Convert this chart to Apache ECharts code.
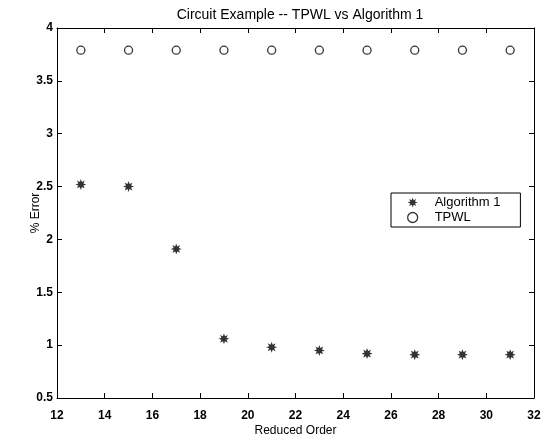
<!DOCTYPE html>
<html>
<head>
<meta charset="utf-8">
<script src="https://cdn.jsdelivr.net/npm/echarts@6/dist/echarts.min.js"></script>
<style>html,body{margin:0;padding:0;background:#fff}#c{width:544px;height:442px}</style>
</head>
<body>
<div id="c"></div>
<script>
var orders = [13, 15, 17, 19, 21, 23, 25, 27, 29, 31];
var algorithm1 = [2.52, 2.50, 1.91, 1.06, 0.98, 0.95, 0.92, 0.91, 0.91, 0.91];
var tpwl = [3.79, 3.79, 3.79, 3.79, 3.79, 3.79, 3.79, 3.79, 3.79, 3.79];
var xTicks = [12, 14, 16, 18, 20, 22, 24, 26, 28, 30, 32];
var yTicks = [0.5, 1, 1.5, 2, 2.5, 3, 3.5, 4];

function pairs(xs, ys) { return xs.map(function (x, i) { return [x, ys[i]]; }); }

// 8-point star (asterisk-like) path
function starPath() {
  var pts = [];
  for (var i = 0; i < 16; i++) {
    var a = Math.PI * i / 8 - Math.PI / 2;
    var r = (i % 2 === 0) ? 10 : 5;
    pts.push((10 + r * Math.cos(a)).toFixed(2) + ' ' + (10 + r * Math.sin(a)).toFixed(2));
  }
  return 'path://M' + pts.join(' L') + ' Z';
}
var star = starPath();
var font = 'Liberation Sans, Arial, Helvetica, sans-serif';

var chart = echarts.init(document.getElementById('c'));
var axisCommonX = {
  type: 'value', min: xTicks[0], max: xTicks[xTicks.length - 1], interval: 2,
  splitLine: { show: false },
  axisLine: { show: true, onZero: false, lineStyle: { color: '#000', width: 1 } },
  axisTick: { show: true, inside: true, length: 5, lineStyle: { color: '#000' } }
};
var axisCommonY = {
  type: 'value', min: yTicks[0], max: yTicks[yTicks.length - 1], interval: 0.5,
  splitLine: { show: false },
  axisLine: { show: true, onZero: false, lineStyle: { color: '#000', width: 1 } },
  axisTick: { show: true, inside: true, length: 5, lineStyle: { color: '#000' } }
};
chart.setOption({
  animation: false,
  backgroundColor: '#fff',
  title: {
    text: 'Circuit Example -- TPWL vs Algorithm 1',
    left: 295, top: 3, textAlign: 'center',
    textStyle: { fontFamily: font, fontSize: 14, fontWeight: 'normal', color: '#000' }
  },
  grid: { left: 57, right: 10, top: 28, bottom: 42 },
  legend: {
    orient: 'vertical', left: 391, top: 193,
    backgroundColor: '#fff', borderColor: '#000', borderWidth: 1, borderRadius: 0,
    padding: [3, 20, 3, 16], itemGap: 2, itemWidth: 10, itemHeight: 10,
    textStyle: { fontFamily: font, fontSize: 13, fontWeight: 'normal', color: '#000', padding: [0, 0, 0, 12] },
    data: [
      { name: 'Algorithm 1', icon: star },
      { name: 'TPWL', icon: 'circle', itemStyle: { color: '#fff', borderColor: '#000', borderWidth: 1.3 } }
    ]
  },
  xAxis: [
    Object.assign({}, axisCommonX, {
      position: 'bottom',
      name: 'Reduced Order', nameLocation: 'middle', nameGap: 27, nameMoveOverlap: false,
      nameTextStyle: { fontFamily: font, fontSize: 12, color: '#000' },
      axisLabel: { fontFamily: font, fontSize: 12, fontWeight: 'bold', color: '#000', margin: 12 }
    }),
    Object.assign({}, axisCommonX, { position: 'top', axisLabel: { show: false } })
  ],
  yAxis: [
    Object.assign({}, axisCommonY, {
      position: 'left',
      name: '% Error', nameLocation: 'middle', nameGap: 15, nameMoveOverlap: false,
      nameTextStyle: { fontFamily: font, fontSize: 12, color: '#000' },
      axisLabel: { fontFamily: font, fontSize: 12, fontWeight: 'bold', color: '#000', margin: 4 }
    }),
    Object.assign({}, axisCommonY, { position: 'right', axisLabel: { show: false } })
  ],
  series: [
    {
      name: 'Algorithm 1', type: 'scatter', symbol: star, symbolSize: 11,
      itemStyle: { color: '#000' },
      data: pairs(orders, algorithm1)
    },
    {
      name: 'TPWL', type: 'scatter', symbol: 'circle', symbolSize: 8,
      itemStyle: { color: '#fff', borderColor: '#000', borderWidth: 1.3 },
      data: pairs(orders, tpwl)
    }
  ]
});
</script>
</body>
</html>
